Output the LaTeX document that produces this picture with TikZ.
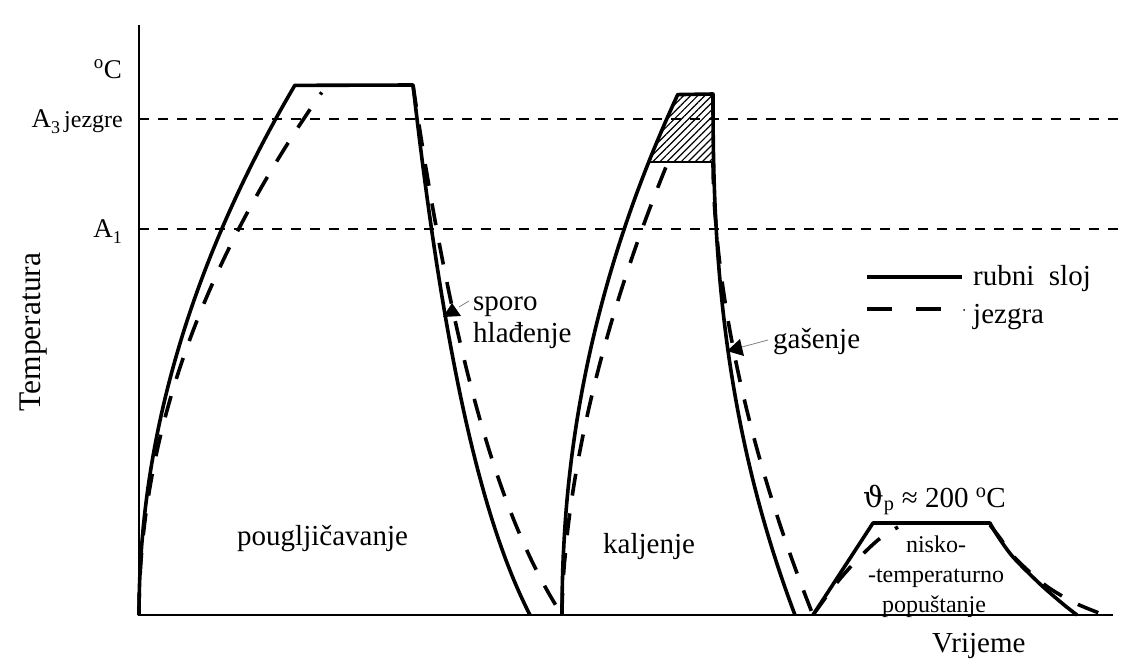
\documentclass[tikz,border=0pt]{standalone}
\usepackage{fontspec}
\setmainfont{Liberation Serif}
\newfontfamily\dvs{DejaVu Serif}
\usetikzlibrary{patterns.meta}
\begin{document}
\begin{tikzpicture}[x=1pt,y=-1pt,
  declare function={F(\xx,\kk)=(1-exp(-\kk*\xx))/(1-exp(-\kk));},
  axisline/.style={line width=2pt},
  refline/.style={line width=1.8pt, dash pattern=on 10pt off 9pt},
  rim/.style={line width=3.6pt, line join=round},
  core/.style={line width=3.6pt, dash pattern=on 22pt off 18pt},
  leader/.style={gray, line width=0.8pt},
  lbl/.style={font=\fontsize{29}{32}\selectfont, inner sep=0pt},
  small/.style={font=\fontsize{24}{30}\selectfont, inner sep=0pt},
  axlbl/.style={font=\fontsize{27}{28}\selectfont, inner sep=0pt}]
\useasboundingbox (0,0) rectangle (1126,659);

% axes
\coordinate (ytop) at (139,25);
\coordinate (O) at (139,615);
\coordinate (xend) at (1113,615);
\draw[axisline] (ytop) -- (O) -- (xend);

% reference lines
\coordinate (a3l) at (139,119); \coordinate (a3r) at (1126,119);
\coordinate (a1l) at (139,229); \coordinate (a1r) at (1126,229);
\draw[refline] (a3l) -- (a3r);
\draw[refline] (a1l) -- (a1r);

% axis labels
\node (degC) [axlbl, anchor=base east] at (122,78) {\textsuperscript{o}C};
\node (A3) [axlbl, anchor=base east] at (123,127) {A\raisebox{-6pt}{\fontsize{18}{18}\selectfont 3}\hspace{4pt}{\fontsize{24}{24}\selectfont jezgre}};
\node (A1) [axlbl, anchor=base east] at (122,237) {A\raisebox{-6pt}{\fontsize{18}{18}\selectfont 1}};
\node (temp) [lbl, font=\fontsize{31.5}{32}\selectfont, rotate=90, anchor=base] at (40,332) {Temperatura};
\node (vrij) [lbl, anchor=base west] at (932,652) {Vrijeme};

% hatched region
\coordinate (h1) at (649,162);
\coordinate (h2) at (678,94);
\coordinate (h3) at (713,94);
\coordinate (h4) at (713,162);
\fill[pattern={Lines[angle=45,distance=5pt,line width=1.2pt]}] (h1) -- (h2) -- (h3) -- (h4) -- cycle;
\draw[line width=2.6pt] (h1) -- (h4);

% cycle 1: pougljicavanje
\draw[rim] plot[domain=0:1,samples=80] ({139+156*\x*\x},{615-530*\x})
  -- (413,85) -- plot[domain=0:1,samples=50] ({413+117*\x},{85+530*F(\x,1.5)});
\draw[core] plot[domain=0:1,samples=80] ({139+183*\x*\x},{615-523*\x});
\draw[core] plot[domain=0:1,samples=50] ({413+149*\x},{85+530*F(\x,1.5)});

% cycle 2: kaljenje
\draw[rim] (562,615) -- plot[domain=0.002:1,samples=80] ({562+116*\x^2.08},{615-521*\x})
  -- (713,94) -- plot[domain=0.002:1,samples=80] ({713+82*\x^2.4},{94+521*\x});
\draw[core] (562,615) -- plot[domain=0.002:1,samples=80] ({562+106*\x^1.75},{615-453*\x});
\draw[core] (713,162) -- plot[domain=0.002:1,samples=80] ({713+100*\x^1.8},{162+453*\x});

% cycle 3: popustanje
\draw[rim] (813,615) -- (873,523) -- (990,523) -- plot[smooth] coordinates {(990,523) (997,535) (1013,557) (1040,584) (1063,604) (1077,615)};
\draw[core] plot[smooth] coordinates {(813,615) (835,585) (855,562) (878,540) (898,527)};
\draw[core] plot[smooth] coordinates {(990,525) (1000,538) (1015,558) (1045,585) (1075,603) (1107,616)};

% process labels
\node (poug) [lbl, anchor=base west] at (237,545) {pougljičavanje};
\node (kalj) [lbl, anchor=base west] at (603,553) {kaljenje};
\node (theta) [lbl, anchor=base west] at (863,507) {{\dvs ϑ}\textsubscript{p} ≈ 200 \textsuperscript{o}C};
\node (nis1) [small, anchor=base] at (936,552) {nisko-};
\node (nis2) [small, anchor=base] at (936,582) {-temperaturno};
\node (nis3) [small, anchor=base] at (934,612) {popuštanje};

% sporo hladjenje marker
\node (sporo) [lbl, anchor=base west] at (473,310) {sporo};
\node (hlad) [lbl, anchor=base west] at (473,342) {hlađenje};
\coordinate (sp1) at (452,303);
\coordinate (sp2) at (443,317);
\coordinate (sp3) at (461,316);
\fill (sp1) -- (sp2) -- (sp3) -- cycle;
\coordinate (spl) at (459,307);
\coordinate (spr) at (469,301);
\draw[leader] (spl) -- (spr);

% gasenje marker
\node (gas) [lbl, anchor=base west] at (773,348) {gašenje};
\coordinate (g1) at (727,351);
\coordinate (g2) at (740,339);
\coordinate (g3) at (744,356);
\fill (g1) -- (g2) -- (g3) -- cycle;
\coordinate (gl) at (742,347);
\coordinate (gr) at (768,340);
\draw[leader] (gl) -- (gr);

% legend
\coordinate (l1a) at (867,277); \coordinate (l1b) at (962,277);
\draw[rim] (l1a) -- (l1b);
\coordinate (l2a) at (867,309); \coordinate (l2b) at (941,309);
\draw[line width=3.6pt, dash pattern=on 25pt off 24pt] (l2a) -- (l2b);
\node (lg1) [lbl, anchor=base west] at (973,285) {rubni\ \ sloj};
\node (lg2) [lbl, anchor=base west] at (973,323) {jezgra};
\fill (964,310) circle (1pt);
\end{tikzpicture}
\end{document}
